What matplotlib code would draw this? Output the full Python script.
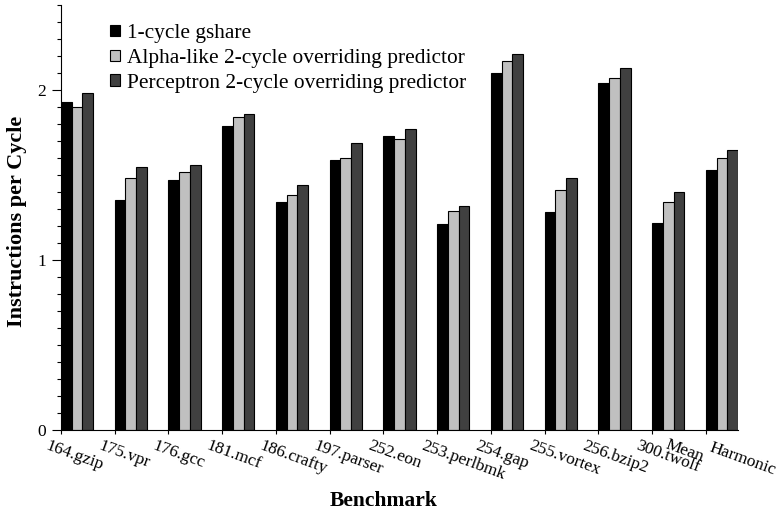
import matplotlib
matplotlib.use("Agg")
import matplotlib.pyplot as plt
import numpy as np
from matplotlib.ticker import MultipleLocator

benchmarks = ["164.gzip", "175.vpr", "176.gcc", "181.mcf", "186.crafty",
              "197.parser", "252.eon", "253.perlbmk", "254.gap", "255.vortex",
              "256.bzip2", "300.twolf", "Harmonic"]
series_names = ["1-cycle gshare",
                "Alpha-like 2-cycle overriding predictor",
                "Perceptron 2-cycle overriding predictor"]
gshare = [1.93, 1.35, 1.47, 1.79, 1.34, 1.59, 1.73, 1.21, 2.10, 1.28, 2.04, 1.22, 1.53]
alpha = [1.90, 1.48, 1.52, 1.84, 1.38, 1.60, 1.71, 1.29, 2.17, 1.41, 2.07, 1.34, 1.60]
perceptron = [1.98, 1.55, 1.56, 1.86, 1.44, 1.69, 1.77, 1.32, 2.21, 1.48, 2.13, 1.40, 1.65]
colors = ["#000000", "#c0c0c0", "#404040"]

plt.rcParams['font.family'] = ['Liberation Serif', 'DejaVu Serif']

fig = plt.figure(figsize=(7.77, 5.14), dpi=100)
ax = fig.add_axes([61 / 777, 1 - 430 / 514, 677 / 777, 425 / 514])

x = np.arange(len(benchmarks))
w = 0.2
for i, (vals, name) in enumerate(zip([gshare, alpha, perceptron], series_names)):
    ax.bar(x + i * w, vals, w, align='edge', color=colors[i], edgecolor='black',
           linewidth=0.8, label=name)

ax.set_xlim(0, len(benchmarks) - 1 + 3 * w)
ax.set_ylim(0, 2.5)
ax.spines['top'].set_visible(False)
ax.spines['right'].set_visible(False)
ax.yaxis.set_major_locator(MultipleLocator(1))
ax.yaxis.set_minor_locator(MultipleLocator(0.1))
ax.tick_params(axis='y', which='major', length=6.5, width=0.8, labelsize=12.5, pad=4)
ax.tick_params(axis='y', which='minor', length=3, width=0.8)
ax.set_xticks(x)
ax.set_xticklabels([])
ax.tick_params(axis='x', which='major', length=3, width=0.8)

# rotated benchmark labels, shifted like the original
for i, lab in enumerate(benchmarks):
    dx = 5 if lab == "Harmonic" else -9
    dy = -7 if lab == "Harmonic" else -5.5
    ax.annotate(lab, xy=(x[i], 0), xycoords=('data', 'axes fraction'),
                xytext=(dx, dy), textcoords='offset points', rotation=-20,
                rotation_mode='anchor', ha='left', va='top', fontsize=12.5)
ax.annotate("Mean", xy=(x[11], 0), xycoords=('data', 'axes fraction'),
            xytext=(12, -5), textcoords='offset points', rotation=-20,
            rotation_mode='anchor', ha='left', va='top', fontsize=12.5)

fig.text(17 / 777, 1 - 221 / 514, "Instructions per Cycle", fontsize=16,
         fontweight='bold', rotation=90, ha='center', va='center')
fig.text(384 / 777, 1 - 501 / 514, "Benchmark", fontsize=15.5, fontweight='bold',
         ha='center', va='center')

ax.legend(loc='upper left', bbox_to_anchor=(0.072, 0.955), frameon=False,
          fontsize=15.4, handlelength=0.5, handleheight=0.45, handletextpad=0.3,
          labelspacing=0.27, borderpad=0, borderaxespad=0)

fig.savefig("out.png", dpi=100)
